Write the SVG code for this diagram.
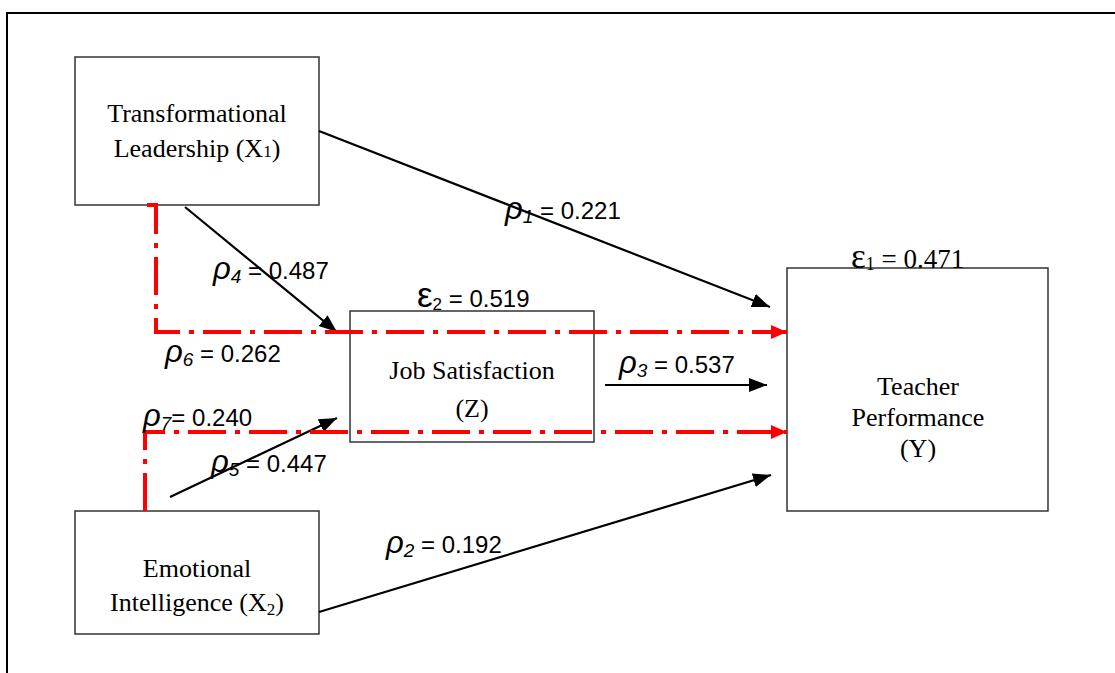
<svg xmlns="http://www.w3.org/2000/svg" width="1115" height="673" viewBox="0 0 1115 673">
<style>
.box{fill:#fff;stroke:#333;stroke-width:1.5}
.nt{font-family:"Liberation Serif","Times New Roman",serif;font-size:26px;fill:#000;text-anchor:middle}
.lb{font-family:"Liberation Sans",Arial,sans-serif;font-size:24px;fill:#000}
.it{font-style:italic;font-size:31px}
.sb{font-style:italic;font-size:19px}
.blk{fill:none;stroke:#000;stroke-width:2.2}
.red{fill:none;stroke:#f00;stroke-width:4;stroke-dasharray:38 9 5 9}
</style>
<defs>
<marker id="ab" markerUnits="userSpaceOnUse" markerWidth="20" markerHeight="16" refX="18" refY="7" orient="auto">
<path d="M0,0 L18,7 L0,14 z" fill="#000"/>
</marker>
<marker id="ar" markerUnits="userSpaceOnUse" markerWidth="20" markerHeight="16" refX="16" refY="7" orient="auto">
<path d="M0,0 L16,7 L0,14 z" fill="#f00"/>
</marker>
</defs>
<rect x="0" y="0" width="1115" height="673" fill="#fff"/>
<rect x="7" y="13" width="1120" height="700" fill="none" stroke="#000" stroke-width="2"/>

<g id="node-tl">
<rect class="box" x="75" y="57" width="244" height="148"/>
<text class="nt" x="197" y="122">Transformational</text>
<text class="nt" x="197" y="157">Leadership (X<tspan font-size="17">1</tspan>)</text>
</g>
<g id="node-js">
<rect class="box" x="350" y="311" width="244" height="131"/>
<text class="nt" x="472" y="379" font-size="25">Job Satisfaction</text>
<text class="nt" x="472" y="417" font-size="25">(Z)</text>
</g>
<g id="node-tp">
<rect class="box" x="787" y="268" width="261" height="243"/>
<text class="nt" x="918" y="395">Teacher</text>
<text class="nt" x="918" y="426">Performance</text>
<text class="nt" x="918" y="457">(Y)</text>
</g>
<g id="node-ei">
<rect class="box" x="75" y="511" width="244" height="123"/>
<text class="nt" x="197" y="577">Emotional</text>
<text class="nt" x="197" y="611">Intelligence (X<tspan font-size="17" dy="4">2</tspan><tspan dy="-4">)</tspan></text>
</g>

<g id="connectors">
<line class="blk" x1="319" y1="131" x2="770" y2="307" marker-end="url(#ab)"/>
<line class="blk" x1="185" y1="207" x2="337" y2="332" marker-end="url(#ab)"/>
<line class="blk" x1="605" y1="385" x2="767" y2="385" marker-end="url(#ab)"/>
<line class="blk" x1="170" y1="497" x2="337" y2="418" marker-end="url(#ab)"/>
<line class="blk" x1="319" y1="612" x2="771" y2="475" marker-end="url(#ab)"/>
<path class="red" d="M147,205 H156 V332 H787" marker-end="url(#ar)"/>
<path class="red" d="M145,511 V432 H787" marker-end="url(#ar)"/>
</g>

<g id="labels">
<text class="lb" x="505" y="219"><tspan class="it">ρ</tspan><tspan class="sb" dy="4">1</tspan><tspan dy="-4"> = 0.221</tspan></text>
<text class="lb" x="213" y="279"><tspan class="it">ρ</tspan><tspan class="sb" dy="4">4</tspan><tspan dy="-4"> = 0.487</tspan></text>
<text class="lb" x="165" y="362"><tspan class="it">ρ</tspan><tspan class="sb" dy="4">6</tspan><tspan dy="-4"> = 0.262</tspan></text>
<text class="lb" x="619" y="373"><tspan class="it">ρ</tspan><tspan class="sb" dy="4">3</tspan><tspan dy="-4"> = 0.537</tspan></text>
<text class="lb" x="143" y="426"><tspan class="it">ρ</tspan><tspan class="sb" dy="4">7</tspan><tspan dy="-4">= 0.240</tspan></text>
<text class="lb" x="211" y="472"><tspan class="it">ρ</tspan><tspan class="sb" dy="4">5</tspan><tspan dy="-4"> = 0.447</tspan></text>
<text class="lb" x="386" y="553"><tspan class="it">ρ</tspan><tspan class="sb" dy="4">2</tspan><tspan dy="-4"> = 0.192</tspan></text>
<text class="lb" x="417" y="307" font-size="25"><tspan font-size="35">ε</tspan><tspan font-size="17" dy="3">2</tspan><tspan dy="-3"> = 0.519</tspan></text>
<text x="851" y="268" font-family="'Liberation Serif','Times New Roman',serif" font-size="27" fill="#000"><tspan font-size="35">ε</tspan><tspan font-size="18" dy="2">1</tspan><tspan dy="-2"> = 0.471</tspan></text>
</g>
</svg>
